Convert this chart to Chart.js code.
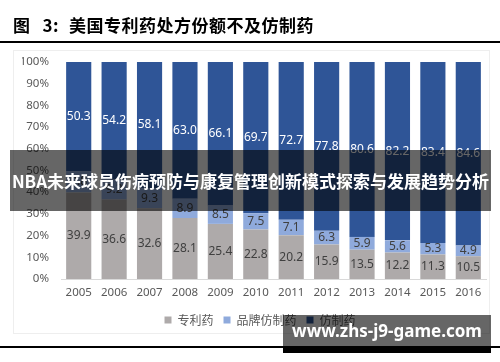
<!DOCTYPE html>
<html><head><meta charset="utf-8">
<script src="https://cdn.jsdelivr.net/npm/chart.js@4.4.1/dist/chart.umd.min.js"></script>
<style>
html,body{margin:0;padding:0;background:#fff;}
#wrap{position:relative;width:500px;height:362px;overflow:hidden;background:#fff;font-family:'Noto Sans CJK SC',sans-serif;}
#frame{position:absolute;left:13px;top:50px;width:477px;height:284px;border:1px solid #EEEEEE;box-sizing:border-box;}
#cv{position:absolute;left:0;top:0;}
#title{position:absolute;left:13px;top:13px;font-size:17px;font-weight:700;color:#000;line-height:24px;white-space:nowrap;letter-spacing:0.5px;}
#title .n{margin:0 10px 0 12px;}
#rule1{position:absolute;left:0;top:41px;width:500px;height:2px;background:#000;}
#rule2{position:absolute;left:0;top:346px;width:500px;height:2px;background:#000;}
#banner{position:absolute;left:10px;top:150px;width:481px;height:61px;background:rgba(0,0,0,0.6);color:#fff;font-weight:700;font-size:17px;line-height:61px;text-align:center;white-space:nowrap;}
#wm{position:absolute;left:283px;top:315px;width:208px;height:31px;background:rgba(0,0,0,0.6);color:#fff;font-family:'Noto Sans',sans-serif;font-weight:700;font-size:17px;line-height:31px;text-align:center;white-space:nowrap;}
#wmb{position:absolute;left:283px;top:346px;width:208px;height:7px;background:#000;}
</style>
</head><body>
<div id="wrap">
  <div id="frame"></div>
  <canvas id="cv" width="500" height="362"></canvas>
  <div id="title">图<span class="n">3:</span>美国专利药处方份额不及仿制药</div>
  <div id="rule1"></div>
  <div id="rule2"></div>
  <div id="banner">NBA未来球员伤病预防与康复管理创新模式探索与发展趋势分析</div>
  <div id="wm">www.zhs-j9-game.com</div>
  <div id="wmb"></div>
</div>
<script>
const categories = ['2005','2006','2007','2008','2009','2010','2011','2012','2013','2014','2015','2016'];
const patentShare = [39.9, 36.6, 32.6, 28.1, 25.4, 22.8, 20.2, 15.9, 13.5, 12.2, 11.3, 10.5];
const brandedGenericShare = [9.8, 9.2, 9.3, 8.9, 8.5, 7.5, 7.1, 6.3, 5.9, 5.6, 5.3, 4.9];
const genericShare = [50.3, 54.2, 58.1, 63.0, 66.1, 69.7, 72.7, 77.8, 80.6, 82.2, 83.4, 84.6];
const seriesNames = ['专利药', '品牌仿制药', '仿制药'];
const seriesColors = ['#AEAAAA', '#8FAADC', '#2F5597'];
const labelColors = ['#404040', '#404040', '#FFFFFF'];
const yTickValues = [0, 10, 20, 30, 40, 50, 60, 70, 80, 90, 100];

const valueLabels = {
  id: 'valueLabels',
  afterDatasetsDraw(chart) {
    const ctx = chart.ctx;
    chart.data.datasets.forEach((ds, i) => {
      const meta = chart.getDatasetMeta(i);
      meta.data.forEach((bar, j) => {
        const p = bar.getProps(['x', 'y', 'base'], true);
        ctx.save();
        ctx.fillStyle = labelColors[i];
        ctx.font = '12px "Noto Sans", "Noto Sans CJK SC", sans-serif';
        ctx.textAlign = 'center';
        ctx.textBaseline = 'middle';
        ctx.fillText(ds.data[j].toFixed(1), p.x, (p.y + p.base) / 2);
        ctx.restore();
      });
    });
  }
};

const seriesData = [patentShare, brandedGenericShare, genericShare];
new Chart(document.getElementById('cv'), {
  type: 'bar',
  data: {
    labels: categories,
    datasets: seriesData.map((d, i) => ({
      label: seriesNames[i],
      data: d,
      backgroundColor: seriesColors[i],
      borderWidth: 0,
      barPercentage: 0.71,
      categoryPercentage: 1.0
    }))
  },
  options: {
    responsive: false,
    animation: false,
    layout: { padding: { left: 22, right: 2, top: 62, bottom: 26 } },
    plugins: {
      tooltip: { enabled: false },
      legend: {
        position: 'bottom',
        labels: {
          boxWidth: 7, boxHeight: 7, padding: 10,
          color: '#595959',
          font: { size: 12, family: '"Noto Sans CJK SC", sans-serif' }
        }
      }
    },
    scales: {
      x: {
        stacked: true,
        grid: { display: false, drawTicks: false },
        border: { display: true, color: '#D9D9D9', width: 1 },
        ticks: { color: '#595959', padding: 7, font: { size: 11.5, family: '"Noto Sans", sans-serif' } },
        afterFit(s) { s.height = 25; }
      },
      y: {
        stacked: true,
        min: 0, max: 100,
        afterBuildTicks(s) { s.ticks = yTickValues.map(v => ({ value: v })); },
        grid: { display: false, drawTicks: false },
        border: { display: false },
        ticks: { color: '#595959', padding: 12, font: { size: 11.5, family: '"Noto Sans", sans-serif' }, callback: v => v + '%' },
        afterFit(s) { s.width = 39; }
      },
      y2: {
        position: 'right',
        display: true,
        grid: { display: false, drawTicks: false },
        border: { display: false },
        ticks: { display: false },
        afterFit(s) { s.width = 12; }
      }
    }
  },
  plugins: [valueLabels]
});
</script>
</body></html>
